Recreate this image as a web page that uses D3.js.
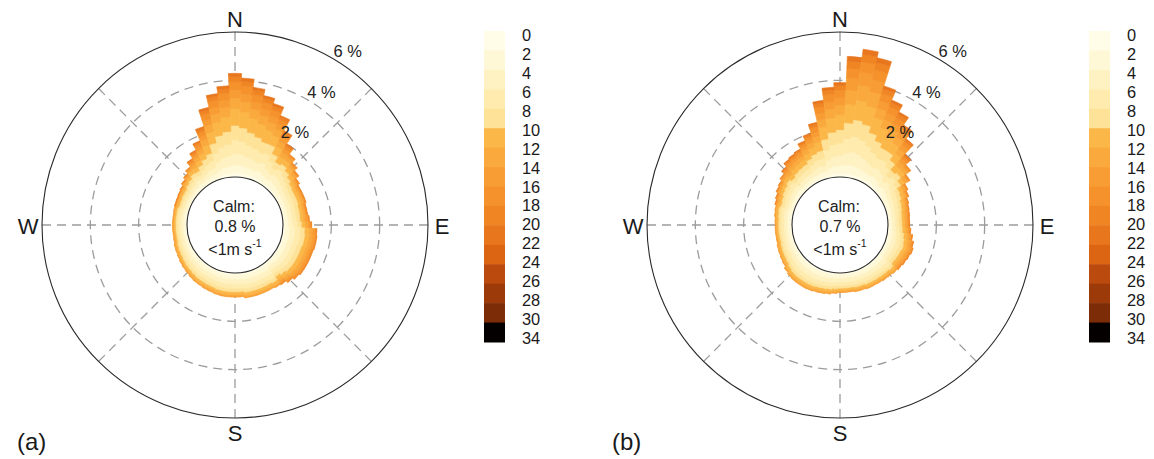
<!DOCTYPE html>
<html>
<head>
<meta charset="utf-8">
<script src="https://cdn.jsdelivr.net/npm/d3@7"></script>
<style>
  html, body { margin: 0; padding: 0; background: #fff; }
  svg { display: block; font-family: "Liberation Sans", Arial, Helvetica, sans-serif; }
</style>
</head>
<body>
<svg id="chart" width="1154" height="459"></svg>
<script>
// ---------------- data ----------------
// wind direction sectors (degrees, clockwise from N), 5° wide
const directions = d3.range(0, 360, 5);
// wind-speed bin edges (m/s) and colour-key labels
const speedBreaks = [0, 2, 4, 6, 8, 10, 12, 14, 16, 18, 20, 22, 24, 26, 28, 30, 34];
const speedLabels = ["0","2","4","6","8","10","12","14","16","18","20","22","24","26","28","30","34"];
const speedColours = ["#fffce8","#fff8d6","#fff2c2","#feebad","#fde298","#fbb748","#faa93d","#f89d33",
                      "#f5922b","#f08524","#e8761c","#dc6514","#bb4a0e","#9c3a0a","#7c2c07","#050000"];
// radial axis (% frequency)
const ringValues = [2, 4, 6];
const ringLabels = ["2 %", "4 %", "6 %"];
const compassLabels = ["N", "E", "S", "W"];
const calmValues = ["0.8 %", "0.7 %"];
const panelLabels = ["(a)", "(b)"];

// frequency (%) per direction (rows, one per 5° sector from N) and speed bin
// (columns: 0-2, 2-4, 4-6, 6-8, 8-10, 10-12, 12-14, 14-16, 16-18, 18-20, 20-22 m/s)
const freqA = [
  [0.17,0.34,0.47,0.56,0.60,0.69,0.43,0.34,0.34,0.22,0.13],
  [0.16,0.33,0.45,0.53,0.57,0.66,0.41,0.33,0.33,0.21,0.12],
  [0.15,0.30,0.41,0.49,0.53,0.60,0.38,0.30,0.30,0.19,0.11],
  [0.14,0.28,0.39,0.46,0.49,0.56,0.35,0.28,0.28,0.17,0.10],
  [0.13,0.26,0.36,0.43,0.46,0.53,0.33,0.26,0.26,0.17,0.10],
  [0.15,0.29,0.38,0.41,0.41,0.41,0.29,0.23,0.17,0.12,0.06],
  [0.12,0.24,0.31,0.34,0.34,0.34,0.24,0.19,0.14,0.10,0.05],
  [0.10,0.20,0.26,0.28,0.28,0.28,0.20,0.16,0.12,0.08,0.04],
  [0.12,0.24,0.29,0.29,0.26,0.20,0.14,0.09,0.05,0.03],
  [0.11,0.21,0.26,0.26,0.23,0.18,0.12,0.07,0.04,0.03],
  [0.09,0.19,0.23,0.23,0.20,0.16,0.11,0.07,0.04,0.03],
  [0.08,0.17,0.20,0.20,0.18,0.14,0.10,0.06,0.04,0.02],
  [0.08,0.15,0.19,0.19,0.17,0.13,0.09,0.05,0.03,0.02],
  [0.08,0.15,0.19,0.19,0.17,0.13,0.09,0.05,0.03,0.02],
  [0.08,0.15,0.19,0.19,0.17,0.13,0.09,0.05,0.03,0.02],
  [0.07,0.15,0.18,0.18,0.16,0.13,0.08,0.05,0.03,0.02],
  [0.07,0.15,0.18,0.18,0.16,0.13,0.08,0.05,0.03,0.02],
  [0.08,0.14,0.18,0.18,0.15,0.13,0.10,0.08,0.04,0.02],
  [0.08,0.16,0.19,0.19,0.17,0.14,0.11,0.08,0.05,0.02],
  [0.10,0.18,0.22,0.22,0.20,0.17,0.13,0.10,0.06,0.03],
  [0.10,0.19,0.23,0.23,0.20,0.17,0.13,0.10,0.06,0.03],
  [0.10,0.19,0.23,0.23,0.20,0.17,0.13,0.10,0.06,0.03],
  [0.10,0.18,0.22,0.22,0.20,0.17,0.13,0.10,0.06,0.03],
  [0.10,0.18,0.22,0.22,0.20,0.17,0.13,0.10,0.06,0.03],
  [0.10,0.18,0.22,0.22,0.20,0.17,0.13,0.10,0.06,0.03],
  [0.10,0.18,0.22,0.22,0.20,0.17,0.13,0.10,0.06,0.03],
  [0.09,0.18,0.22,0.22,0.19,0.16,0.12,0.09,0.05,0.03],
  [0.09,0.16,0.20,0.20,0.18,0.15,0.11,0.09,0.05,0.02],
  [0.08,0.15,0.18,0.18,0.16,0.14,0.10,0.08,0.05,0.02],
  [0.11,0.20,0.22,0.20,0.15,0.12,0.07,0.03],
  [0.11,0.19,0.21,0.19,0.15,0.12,0.06,0.03],
  [0.11,0.19,0.21,0.19,0.15,0.12,0.06,0.03],
  [0.11,0.19,0.21,0.19,0.15,0.12,0.06,0.03],
  [0.11,0.19,0.21,0.19,0.15,0.12,0.06,0.03],
  [0.11,0.19,0.21,0.19,0.15,0.12,0.06,0.03],
  [0.10,0.18,0.20,0.18,0.14,0.11,0.06,0.03],
  [0.10,0.18,0.20,0.18,0.14,0.11,0.06,0.03],
  [0.10,0.18,0.20,0.18,0.14,0.11,0.06,0.03],
  [0.10,0.18,0.20,0.18,0.14,0.11,0.06,0.03],
  [0.10,0.18,0.19,0.18,0.14,0.11,0.05,0.03],
  [0.10,0.17,0.19,0.17,0.13,0.10,0.06,0.03],
  [0.09,0.17,0.18,0.17,0.13,0.10,0.06,0.03],
  [0.09,0.16,0.18,0.16,0.13,0.10,0.05,0.03],
  [0.09,0.16,0.18,0.16,0.12,0.10,0.05,0.02],
  [0.09,0.15,0.17,0.15,0.12,0.09,0.05,0.03],
  [0.08,0.15,0.16,0.15,0.11,0.09,0.05,0.02],
  [0.08,0.14,0.16,0.14,0.11,0.09,0.04,0.02],
  [0.08,0.14,0.15,0.13,0.10,0.08,0.05,0.02],
  [0.07,0.13,0.14,0.13,0.10,0.08,0.04,0.02],
  [0.07,0.12,0.14,0.12,0.10,0.07,0.04,0.02],
  [0.07,0.12,0.13,0.12,0.09,0.07,0.04,0.02],
  [0.06,0.11,0.12,0.11,0.09,0.07,0.04,0.02],
  [0.06,0.11,0.12,0.11,0.08,0.07,0.03,0.02],
  [0.06,0.11,0.12,0.11,0.08,0.07,0.03,0.02],
  [0.06,0.11,0.12,0.11,0.08,0.07,0.03,0.02],
  [0.06,0.11,0.12,0.11,0.08,0.07,0.03,0.02],
  [0.06,0.11,0.12,0.11,0.08,0.07,0.03,0.02],
  [0.06,0.11,0.12,0.11,0.09,0.07,0.04,0.02],
  [0.04,0.09,0.11,0.11,0.10,0.08,0.05,0.03,0.02,0.01],
  [0.05,0.09,0.11,0.11,0.10,0.08,0.05,0.03,0.02,0.01],
  [0.05,0.10,0.12,0.12,0.10,0.08,0.05,0.03,0.02,0.01],
  [0.05,0.10,0.12,0.12,0.11,0.09,0.06,0.04,0.02,0.01],
  [0.06,0.11,0.14,0.14,0.12,0.10,0.06,0.04,0.02,0.02],
  [0.06,0.13,0.15,0.15,0.14,0.11,0.07,0.05,0.03,0.02],
  [0.07,0.15,0.18,0.18,0.16,0.13,0.08,0.05,0.03,0.02],
  [0.06,0.13,0.16,0.18,0.18,0.18,0.13,0.10,0.08,0.05,0.03],
  [0.08,0.15,0.20,0.21,0.21,0.21,0.15,0.12,0.09,0.06,0.03],
  [0.09,0.18,0.23,0.25,0.25,0.25,0.18,0.14,0.11,0.07,0.04],
  [0.09,0.18,0.25,0.30,0.32,0.37,0.23,0.18,0.18,0.12,0.07],
  [0.12,0.24,0.33,0.39,0.42,0.48,0.30,0.24,0.24,0.15,0.09],
  [0.14,0.28,0.39,0.46,0.49,0.56,0.35,0.28,0.28,0.17,0.10],
  [0.15,0.30,0.42,0.49,0.53,0.61,0.38,0.30,0.30,0.19,0.11]
];

const freqB = [
  [0.16,0.31,0.43,0.51,0.55,0.62,0.39,0.31,0.31,0.20,0.12],
  [0.15,0.35,0.50,0.60,0.65,0.75,0.60,0.50,0.40,0.30,0.20],
  [0.16,0.37,0.54,0.64,0.70,0.80,0.64,0.54,0.43,0.32,0.21],
  [0.15,0.36,0.51,0.61,0.66,0.77,0.61,0.51,0.41,0.31,0.20],
  [0.16,0.32,0.45,0.53,0.57,0.65,0.41,0.32,0.32,0.20,0.12],
  [0.14,0.29,0.40,0.47,0.50,0.58,0.36,0.29,0.29,0.18,0.11],
  [0.13,0.26,0.36,0.43,0.46,0.53,0.33,0.26,0.26,0.17,0.10],
  [0.15,0.29,0.38,0.41,0.41,0.41,0.29,0.23,0.17,0.12,0.06],
  [0.13,0.25,0.33,0.35,0.35,0.35,0.25,0.20,0.15,0.10,0.05],
  [0.10,0.20,0.26,0.28,0.28,0.28,0.20,0.16,0.12,0.08,0.04],
  [0.12,0.24,0.29,0.29,0.26,0.20,0.14,0.09,0.05,0.03],
  [0.10,0.20,0.25,0.25,0.22,0.17,0.12,0.07,0.04,0.03],
  [0.08,0.17,0.20,0.20,0.18,0.14,0.10,0.06,0.04,0.02],
  [0.08,0.15,0.19,0.19,0.17,0.13,0.09,0.05,0.03,0.02],
  [0.07,0.14,0.17,0.17,0.15,0.12,0.08,0.05,0.03,0.02],
  [0.07,0.13,0.16,0.16,0.14,0.11,0.08,0.05,0.03,0.02],
  [0.06,0.12,0.15,0.15,0.13,0.11,0.08,0.07,0.04,0.01],
  [0.06,0.12,0.14,0.14,0.13,0.11,0.08,0.06,0.04,0.02],
  [0.06,0.12,0.14,0.14,0.13,0.11,0.08,0.06,0.04,0.02],
  [0.07,0.12,0.15,0.15,0.13,0.11,0.09,0.07,0.04,0.02],
  [0.07,0.14,0.17,0.17,0.15,0.13,0.09,0.07,0.04,0.02],
  [0.08,0.15,0.18,0.18,0.16,0.14,0.10,0.08,0.05,0.02],
  [0.08,0.16,0.19,0.19,0.17,0.14,0.11,0.08,0.05,0.02],
  [0.08,0.15,0.18,0.18,0.16,0.14,0.10,0.08,0.05,0.02],
  [0.08,0.14,0.18,0.18,0.15,0.13,0.10,0.08,0.04,0.02],
  [0.07,0.14,0.17,0.17,0.15,0.13,0.09,0.07,0.04,0.02],
  [0.10,0.18,0.20,0.18,0.14,0.11,0.06,0.03],
  [0.10,0.17,0.19,0.17,0.13,0.10,0.06,0.03],
  [0.09,0.17,0.18,0.17,0.13,0.10,0.06,0.03],
  [0.09,0.16,0.18,0.16,0.13,0.10,0.05,0.03],
  [0.09,0.16,0.18,0.16,0.12,0.10,0.05,0.02],
  [0.09,0.16,0.18,0.16,0.12,0.10,0.05,0.02],
  [0.09,0.15,0.17,0.15,0.12,0.09,0.05,0.03],
  [0.09,0.15,0.17,0.15,0.12,0.09,0.05,0.03],
  [0.08,0.15,0.16,0.15,0.11,0.09,0.05,0.02],
  [0.08,0.15,0.16,0.15,0.11,0.09,0.05,0.02],
  [0.08,0.15,0.16,0.15,0.11,0.09,0.05,0.02],
  [0.09,0.15,0.17,0.15,0.12,0.09,0.05,0.03],
  [0.09,0.16,0.18,0.16,0.13,0.10,0.05,0.03],
  [0.09,0.17,0.18,0.17,0.13,0.10,0.06,0.03],
  [0.10,0.17,0.19,0.17,0.13,0.10,0.06,0.03],
  [0.10,0.18,0.19,0.18,0.14,0.11,0.05,0.03],
  [0.10,0.18,0.20,0.18,0.14,0.11,0.06,0.03],
  [0.10,0.18,0.20,0.18,0.14,0.11,0.06,0.03],
  [0.10,0.18,0.20,0.18,0.14,0.11,0.06,0.03],
  [0.10,0.18,0.19,0.18,0.14,0.11,0.05,0.03],
  [0.09,0.17,0.18,0.17,0.13,0.10,0.06,0.03],
  [0.09,0.15,0.17,0.15,0.12,0.09,0.05,0.03],
  [0.08,0.15,0.16,0.15,0.11,0.09,0.05,0.02],
  [0.08,0.14,0.16,0.14,0.11,0.09,0.04,0.02],
  [0.08,0.14,0.15,0.13,0.10,0.08,0.05,0.02],
  [0.07,0.13,0.14,0.13,0.10,0.08,0.04,0.02],
  [0.07,0.13,0.14,0.13,0.10,0.08,0.03,0.02],
  [0.07,0.13,0.14,0.13,0.10,0.08,0.03,0.02],
  [0.07,0.13,0.14,0.13,0.10,0.08,0.03,0.02],
  [0.07,0.13,0.14,0.13,0.10,0.08,0.04,0.02],
  [0.08,0.14,0.15,0.13,0.10,0.08,0.05,0.02],
  [0.08,0.14,0.16,0.14,0.11,0.09,0.04,0.02],
  [0.06,0.12,0.14,0.14,0.13,0.10,0.07,0.04,0.03,0.01],
  [0.06,0.13,0.15,0.15,0.14,0.11,0.07,0.05,0.03,0.02],
  [0.07,0.14,0.17,0.17,0.15,0.12,0.08,0.05,0.03,0.02],
  [0.07,0.15,0.18,0.18,0.16,0.13,0.08,0.05,0.03,0.02],
  [0.08,0.16,0.20,0.20,0.17,0.14,0.09,0.06,0.03,0.02],
  [0.07,0.13,0.17,0.18,0.18,0.18,0.13,0.10,0.08,0.05,0.03],
  [0.07,0.15,0.19,0.20,0.20,0.20,0.15,0.12,0.09,0.06,0.03],
  [0.08,0.15,0.20,0.21,0.21,0.21,0.15,0.12,0.09,0.06,0.03],
  [0.08,0.16,0.20,0.22,0.22,0.22,0.16,0.12,0.09,0.06,0.03],
  [0.09,0.18,0.23,0.25,0.25,0.25,0.18,0.14,0.11,0.07,0.04],
  [0.10,0.20,0.26,0.28,0.28,0.28,0.20,0.16,0.12,0.08,0.04],
  [0.09,0.19,0.26,0.31,0.33,0.38,0.24,0.19,0.19,0.12,0.07],
  [0.13,0.26,0.35,0.42,0.45,0.51,0.32,0.26,0.26,0.16,0.10],
  [0.15,0.30,0.41,0.48,0.52,0.59,0.37,0.30,0.30,0.19,0.11]
];

// ---------------- drawing ----------------
const svg = d3.select("#chart");
svg.append("rect").attr("width", 1154).attr("height", 459).attr("fill", "#fff");

const panels = [
  { freq: freqA, cx: 235, cy: 225, barX: 484, calm: calmValues[0], label: panelLabels[0], labelX: 17 },
  { freq: freqB, cx: 840, cy: 225, barX: 1089, calm: calmValues[1], label: panelLabels[1], labelX: 612 }
];

const rScale = d3.scaleLinear().domain([0, 6]).range([48, 193]);
const colour = d3.scaleOrdinal().domain(d3.range(speedColours.length)).range(speedColours);
const arc = d3.arc();
const halfWidth = 2.5 * Math.PI / 180;
const rad = d => d * Math.PI / 180;

panels.forEach(p => {
  const g = svg.append("g").attr("transform", `translate(${p.cx},${p.cy})`);

  // grid: dashed rings and spokes
  const grid = g.append("g").attr("fill", "none").attr("stroke", "#9c9c9c")
    .attr("stroke-width", 1.3).attr("stroke-dasharray", "9,6");
  ringValues.slice(0, 2).forEach(v => grid.append("circle").attr("r", rScale(v)));
  d3.range(0, 360, 45).forEach(a => {
    const s = Math.sin(rad(a)), c = -Math.cos(rad(a));
    grid.append("line")
      .attr("x1", rScale(6) * s).attr("y1", rScale(6) * c)
      .attr("x2", rScale(0) * s).attr("y2", rScale(0) * c);
  });
  // outer ring
  g.append("circle").attr("r", rScale(6)).attr("fill", "none")
    .attr("stroke", "#2a2a2a").attr("stroke-width", 1.1);

  // stacked rose
  const rose = g.append("g");
  p.freq.forEach((row, i) => {
    const a = rad(directions[i]);
    let cum = 0;
    row.forEach((v, j) => {
      if (!v) return;
      const d = arc({ innerRadius: rScale(cum), outerRadius: rScale(cum + v),
                      startAngle: a - halfWidth, endAngle: a + halfWidth });
      rose.append("path").attr("d", d).attr("fill", colour(j))
        .attr("stroke", colour(j)).attr("stroke-width", 0.6).attr("stroke-linejoin", "miter");
      cum += v;
    });
  });

  // calm circle
  g.append("circle").attr("r", rScale(0)).attr("fill", "#fff")
    .attr("stroke", "#2a2a2a").attr("stroke-width", 1.1);
  const calmT = g.append("g").attr("fill", "#222").attr("font-size", 16).attr("text-anchor", "middle");
  calmT.append("text").attr("x", -1).attr("y", -19).attr("dominant-baseline", "central").text("Calm:");
  calmT.append("text").attr("x", 0).attr("y", 1).attr("dominant-baseline", "central").text(p.calm);
  const t3 = calmT.append("text").attr("x", 0).attr("y", 24).attr("dominant-baseline", "central");
  t3.append("tspan").text("<1m s");
  t3.append("tspan").attr("font-size", 10.5).attr("dy", -6).text("-1");

  // ring labels
  ringValues.forEach((v, k) => {
    const rr = rScale(v) + 14, a = rad(33);
    g.append("text").attr("x", rr * Math.sin(a)).attr("y", -rr * Math.cos(a))
      .attr("text-anchor", "middle").attr("dominant-baseline", "central")
      .attr("font-size", 16.5).attr("fill", "#222").text(ringLabels[k]);
  });

  // compass labels
  compassLabels.forEach((t, k) => {
    const a = rad(k * 90), rr = 207;
    g.append("text").attr("x", rr * Math.sin(a)).attr("y", -rr * Math.cos(a) + 1)
      .attr("text-anchor", "middle").attr("dominant-baseline", "central")
      .attr("font-size", 22).attr("fill", "#1a1a1a").text(t);
  });

  // colour key
  const yKey = d3.scaleLinear().domain([0, speedColours.length]).range([31, 342]);
  const key = svg.append("g");
  speedColours.forEach((c, k) => {
    key.append("rect").attr("x", p.barX).attr("width", 21)
      .attr("y", yKey(k)).attr("height", yKey(k + 1) - yKey(k) + 0.5).attr("fill", c);
  });
  const yLab = d3.scaleLinear().domain([0, speedLabels.length - 1]).range([35, 338]);
  speedLabels.forEach((t, k) => {
    key.append("text").attr("x", p.barX + 38).attr("y", yLab(k))
      .attr("dominant-baseline", "central").attr("font-size", 16.4).attr("fill", "#1a1a1a").text(t);
  });

  // panel label
  svg.append("text").attr("x", p.labelX).attr("y", 450).attr("font-size", 24)
    .attr("fill", "#1a1a1a").text(p.label);
});
</script>
</body>
</html>
